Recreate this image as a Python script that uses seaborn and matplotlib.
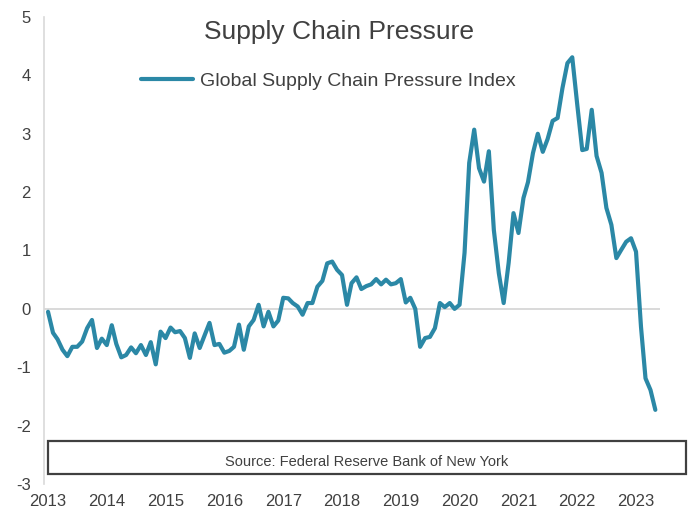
import matplotlib
matplotlib.use("Agg")
import matplotlib.pyplot as plt
import pandas as pd
import seaborn as sns
from matplotlib.patches import Rectangle

# Global Supply Chain Pressure Index, monthly from January 2013
start_month = "2013-01-01"
gscpi = [
    # 2013
    -0.05, -0.41, -0.52, -0.70, -0.81, -0.65, -0.65, -0.56, -0.33, -0.19, -0.67, -0.51,
    # 2014
    -0.62, -0.28, -0.60, -0.83, -0.79, -0.66, -0.76, -0.62, -0.79, -0.57, -0.95, -0.39,
    # 2015
    -0.50, -0.32, -0.40, -0.38, -0.50, -0.84, -0.42, -0.67, -0.45, -0.24, -0.62, -0.60,
    # 2016
    -0.75, -0.72, -0.65, -0.27, -0.70, -0.30, -0.19, 0.07, -0.30, -0.05, -0.30, -0.20,
    # 2017
    0.19, 0.18, 0.10, 0.04, -0.10, 0.10, 0.10, 0.38, 0.48, 0.78, 0.81, 0.67,
    # 2018
    0.58, 0.07, 0.44, 0.54, 0.34, 0.39, 0.42, 0.51, 0.42, 0.50, 0.42, 0.44,
    # 2019
    0.51, 0.11, 0.19, 0.00, -0.65, -0.50, -0.48, -0.33, 0.10, 0.03, 0.10, 0.00,
    # 2020
    0.07, 0.96, 2.50, 3.07, 2.41, 2.18, 2.70, 1.35, 0.61, 0.10, 0.79, 1.64,
    # 2021
    1.30, 1.90, 2.17, 2.67, 3.00, 2.69, 2.91, 3.22, 3.27, 3.78, 4.21, 4.31,
    # 2022
    3.50, 2.72, 2.74, 3.41, 2.62, 2.33, 1.73, 1.44, 0.87, 1.01, 1.15, 1.21,
    # 2023
    0.98, -0.31, -1.19, -1.39, -1.73,
]
year_labels = [str(y) for y in range(2013, 2024)]
y_ticks = [-3, -2, -1, 0, 1, 2, 3, 4, 5]

series_name = "Global Supply Chain Pressure Index"
title_text = "Supply Chain Pressure"
source_text = "Source: Federal Reserve Bank of New York"

LINE = "#2B88A6"
TEXT = "#404040"
GRID = "#D9D9D9"

df = pd.DataFrame({
    "date": pd.date_range(start_month, periods=len(gscpi), freq="MS"),
    "value": gscpi,
})

sns.set_theme(style="white")
plt.rcParams["font.family"] = ["Liberation Sans", "DejaVu Sans"]

fig = plt.figure(figsize=(6.96, 5.08), dpi=100)
W, H = 696, 508
ax = fig.add_axes([44 / W, 1 - 484 / H, (660 - 44) / W, (484 - 17) / H])

ax.axhline(0, color=GRID, lw=1.4, zorder=1)
sns.lineplot(data=df, x="date", y="value", ax=ax, color=LINE, linewidth=3.0,
             label=series_name, zorder=3)

ax.set_ylim(-3, 5)
ax.set_yticks(y_ticks)
ax.set_yticklabels([str(t) for t in y_ticks])
ax.set_xlim(pd.Timestamp("2012-12-07"), pd.Timestamp("2023-05-30"))
year_ticks = pd.to_datetime([f"{y}-01-01" for y in year_labels])
ax.set_xticks(year_ticks)
ax.set_xticklabels(year_labels)
ax.set_xlabel("")
ax.set_ylabel("")

for side in ["top", "right", "bottom"]:
    ax.spines[side].set_visible(False)
ax.spines["left"].set_color(GRID)
ax.spines["left"].set_linewidth(1.2)
ax.tick_params(axis="y", length=0, pad=9.5, labelsize=12, labelcolor=TEXT)
ax.tick_params(axis="x", length=0, pad=7, labelsize=12, labelcolor=TEXT)
ax.grid(False)

fig.text(339.5 / W, 1 - 32 / H, title_text, ha="center", va="center",
         fontsize=19, color=TEXT)

leg = ax.legend(loc="center", bbox_to_anchor=(328 / W, 1 - 81 / H),
                bbox_transform=fig.transFigure, frameon=False, fontsize=14,
                handlelength=2.7, handletextpad=0.35, borderpad=0)
for t in leg.get_texts():
    t.set_color(TEXT)

box = Rectangle((48 / W, 1 - 474 / H), (686 - 48) / W, (474 - 441) / H,
                transform=fig.transFigure, fill=True, facecolor="white",
                edgecolor=TEXT, linewidth=1.6, zorder=5)
fig.patches.append(box)
fig.text(367 / W, 1 - 462 / H, source_text, ha="center", va="center",
         fontsize=10.5, color=TEXT, zorder=6)

fig.savefig("out.png", dpi=100)
